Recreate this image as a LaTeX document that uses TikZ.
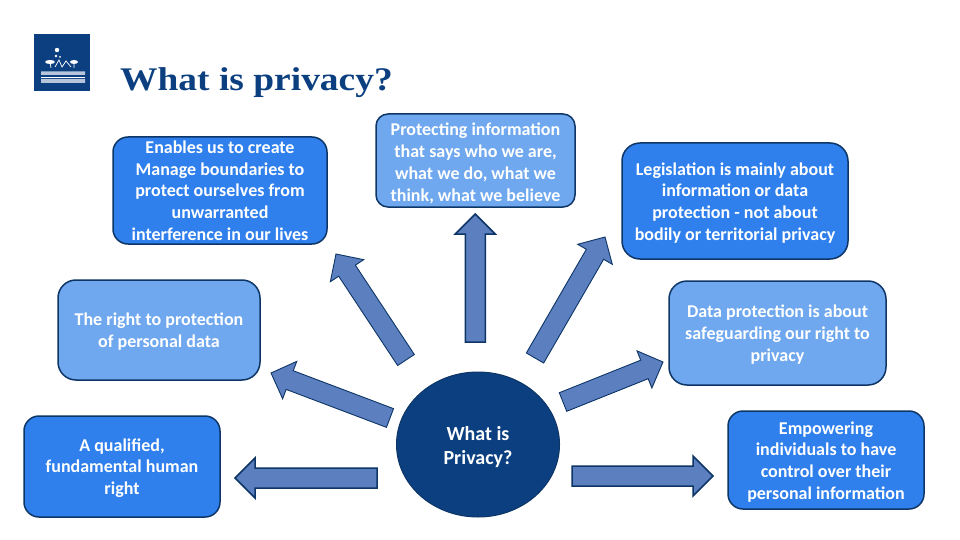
\documentclass[tikz,border=0pt]{standalone}
\usepackage{fontspec}
\setmainfont{Carlito}
\newfontfamily\titlefont[FakeStretch=1.135]{Liberation Serif}
\usetikzlibrary{calc,shapes.geometric}
\definecolor{nnavy}{HTML}{0D3566}
\definecolor{nblue}{HTML}{2F80ED}
\definecolor{nlight}{HTML}{6FA8EE}
\definecolor{narrow}{HTML}{5B7FBF}
\definecolor{ncircle}{HTML}{0C3F80}
\newcommand{\topgap}{\rule{0pt}{16pt}}
\newcommand{\blockarrow}[3]{%
 \coordinate (neck) at ($(#2)!20pt!(#1)$);
 \draw[arrowbox, line width=#3pt] ($(#1)!10pt!90:(#2)$) -- ($(neck)!10pt!-90:(#1)$) -- ($(neck)!20pt!-90:(#1)$) -- (#2)
  -- ($(neck)!20pt!90:(#1)$) -- ($(neck)!10pt!90:(#1)$) -- ($(#1)!10pt!-90:(#2)$) -- cycle;}
\begin{document}
\begin{tikzpicture}[x=1pt,y=-1pt,
 infobox/.style={draw=nnavy, line width=1.5pt, rounded corners=15pt, text=white, align=center,
  font=\fontsize{18}{21.7}\selectfont\bfseries, inner sep=0pt},
 arrowbox/.style={draw=nnavy, fill=narrow, line join=miter}]
 \useasboundingbox (0,0) rectangle (960,540);
 % logo
 \fill[ncircle] (34,34) rectangle (90,91);
 \fill[white] (57,50) circle (2.2pt) (56,56) circle (1.4pt) (60,57) circle (1pt);
 \fill[white] (50,62) ellipse (5pt and 2pt) (74,62) ellipse (4pt and 2pt);
 \draw[white, line width=0.7pt] (50,62) -- (51,68) (74,62) -- (74,68) (55,67) -- (59,60) -- (62,67) -- (66,61) -- (71,67);
 \fill[white!70!ncircle] (41,71.5) rectangle (85,75) (41,79) rectangle (85,83);
 \draw[white] (41,77) -- (85,77);
 % title
 \node[anchor=base west, inner sep=0pt, text=ncircle, font=\titlefont\fontsize{33}{36}\selectfont\bfseries] (title) at (120,90.5) {What is privacy?};
 % boxes
 \node[infobox, fill=nblue, minimum width=214pt, minimum height=107pt] (manage) at (220,190.5) {Enables us to create\\ Manage boundaries to\\ protect ourselves from\\ unwarranted\\ interference in our lives};
 \node[infobox, fill=nlight, rounded corners=12pt, minimum width=199pt, minimum height=93pt] (protect) at (475.5,160.5) {\rule{0pt}{18.5pt}Protecting information\\ that says who we are,\\ what we do, what we\\ think, what we believe};
 \node[infobox, fill=nblue, rounded corners=18pt, minimum width=226pt, minimum height=116pt] (legal) at (735,201) {\topgap Legislation is mainly about\\ information or data\\ protection - not about\\ bodily or territorial privacy};
 \node[infobox, fill=nlight, rounded corners=18pt, minimum width=217pt, minimum height=104pt] (safe) at (777.5,333) {\topgap Data protection is about\\ safeguarding our right to\\ privacy};
 \node[infobox, fill=nlight, rounded corners=18pt, minimum width=202pt, minimum height=100pt] (rights) at (159,330) {\topgap The right to protection\\ of personal data};
 \node[infobox, fill=nblue, minimum width=196pt, minimum height=101pt] (human) at (122,466.5) {\topgap A qualified,\\ fundamental human\\ right};
 \node[infobox, fill=nblue, minimum width=196pt, minimum height=98pt] (control) at (826,460) {\topgap Empowering\\ individuals to have\\ control over their\\ personal information};
 \node[ellipse, draw=nnavy, line width=1pt, fill=ncircle, text=white, align=center, inner sep=0pt, minimum width=163pt, minimum height=145pt, font=\fontsize{20}{24}\selectfont\bfseries] (hub) at (478,444.5) {\rule{0pt}{18.5pt}What is\\ Privacy?};
 % arrows
 \foreach \tail/\tailx/\taily/\tip/\tipx/\tipy/\bw in {lefttail/377/478/lefttip/235/478/1.5, ltail/390/418/ltip/271/373/0.9, stail/406/360/stip/336/254/0.9, utail/475.3/342/utip/475.3/214/1.5, rtail/535/358/rtip/605/237/0.9, dtail/563/402/dtip/663/362/0.9, righttail/572/476/righttip/713/476/1.5} {
  \coordinate (\tail) at (\tailx,\taily);
  \coordinate (\tip) at (\tipx,\tipy);
  \blockarrow{\tail}{\tip}{\bw}
 }
\end{tikzpicture}
\end{document}
